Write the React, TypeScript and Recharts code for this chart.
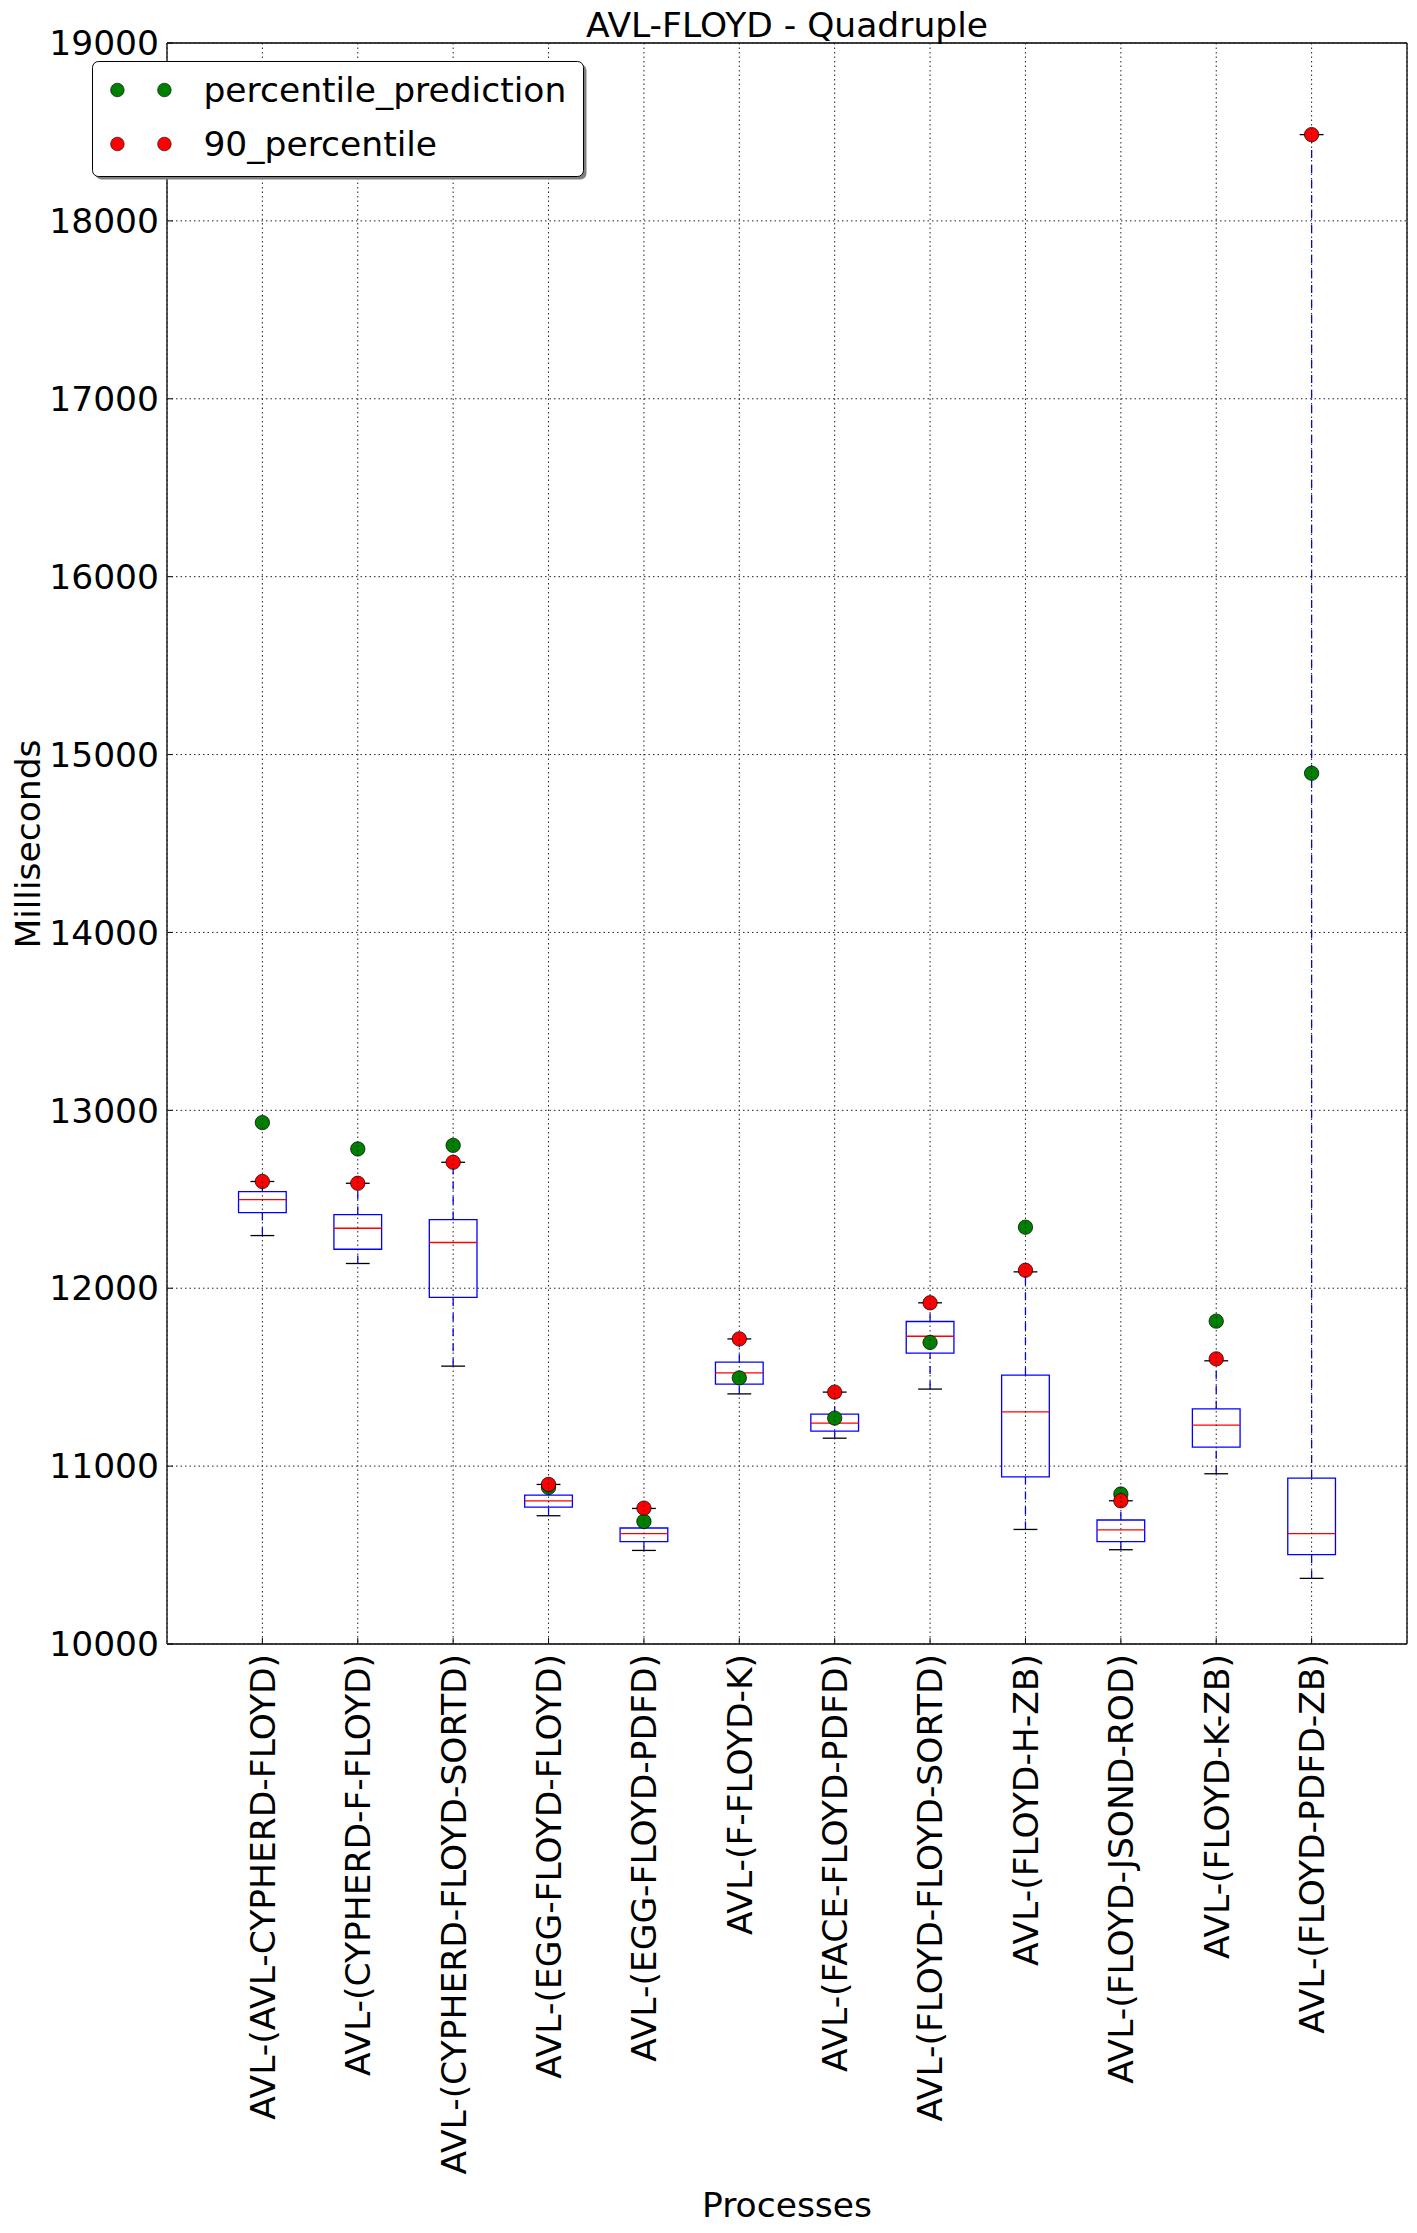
import React from 'react';
import {
  ComposedChart,
  XAxis,
  YAxis,
  CartesianGrid,
  Scatter,
  ReferenceLine,
  ReferenceArea,
  Legend,
} from 'recharts';

// ---------- data ----------
const categories = [
  'AVL-(AVL-CYPHERD-FLOYD)',
  'AVL-(CYPHERD-F-FLOYD)',
  'AVL-(CYPHERD-FLOYD-SORTD)',
  'AVL-(EGG-FLOYD-FLOYD)',
  'AVL-(EGG-FLOYD-PDFD)',
  'AVL-(F-FLOYD-K)',
  'AVL-(FACE-FLOYD-PDFD)',
  'AVL-(FLOYD-FLOYD-SORTD)',
  'AVL-(FLOYD-H-ZB)',
  'AVL-(FLOYD-JSOND-ROD)',
  'AVL-(FLOYD-K-ZB)',
  'AVL-(FLOYD-PDFD-ZB)',
];

const whiskerLow = [12296, 12139, 11562, 10721, 10526, 11406, 11157, 11433, 10644, 10530, 10957, 10369];
const q1 = [12425, 12219, 11948, 10770, 10575, 11461, 11197, 11635, 10940, 10575, 11107, 10502];
const median = [12498, 12337, 12257, 10805, 10620, 11524, 11242, 11730, 11305, 10642, 11230, 10620];
const q3 = [12543, 12414, 12386, 10837, 10652, 11584, 11292, 11813, 11511, 10697, 11322, 10933];
const whiskerHigh = [12600, 12590, 12708, 10897, 10762, 11715, 11416, 11918, 12092, 10805, 11592, 18485];

const percentilePrediction = [12931, 12783, 12803, 10880, 10689, 11496, 11270, 11695, 12343, 10843, 11815, 14895];
const percentile90 = [12600, 12590, 12708, 10897, 10764, 11715, 11416, 11918, 12101, 10805, 11603, 18485];

const yTicks = [10000, 11000, 12000, 13000, 14000, 15000, 16000, 17000, 18000, 19000];
const xPositions = categories.map((_, i) => i + 1);

// ---------- layout / style ----------
const W = 1417;
const H = 2233;
const FONT = '"DejaVu Sans", sans-serif';
const FS = 34.5;
const BOX_HALF = 0.25;
const CAP_HALF = 0.125;
const BLUE = '#0000ff';
const RED = '#ff0000';
const GREEN = '#008000';

const predictionPoints = xPositions.map((x, i) => ({ x, y: percentilePrediction[i] }));
const p90Points = xPositions.map((x, i) => ({ x, y: percentile90[i] }));

const makeDot = (color: string) => (props: any) => {
  const { cx, cy } = props;
  if (cx == null || cy == null) return <g />;
  return <circle cx={cx} cy={cy} r={7.2} fill={color} stroke="#000" strokeWidth={0.7} />;
};

const XTick = (props: any) => {
  const { x, y, payload } = props;
  const label = categories[Math.round(payload.value) - 1] ?? '';
  return (
    <text
      x={x}
      y={y}
      dy="0.36em"
      transform={`rotate(-90, ${x}, ${y})`}
      textAnchor="end"
      fontSize={FS}
      fontFamily={FONT}
      fill="#000"
    >
      {label}
    </text>
  );
};

const LegendBox = () => (
  <svg width={500} height={124} style={{ display: 'block', overflow: 'visible' }}>
    <rect x={3.5} y={3.5} width={491} height={115} rx={6} ry={6} fill="#808080" />
    <rect x={0.5} y={0.5} width={491} height={115} rx={6} ry={6} fill="#fff" stroke="#000" strokeWidth={1} />
    <circle cx={25.4} cy={29} r={6.8} fill={GREEN} stroke="#000" strokeWidth={0.6} />
    <circle cx={72.4} cy={29} r={6.8} fill={GREEN} stroke="#000" strokeWidth={0.6} />
    <text x={111.4} y={41} fontSize={FS} fontFamily={FONT} fill="#000">
      percentile_prediction
    </text>
    <circle cx={25.4} cy={83} r={6.8} fill={RED} stroke="#000" strokeWidth={0.6} />
    <circle cx={72.4} cy={83} r={6.8} fill={RED} stroke="#000" strokeWidth={0.6} />
    <text x={111.4} y={95} fontSize={FS} fontFamily={FONT} fill="#000">
      90_percentile
    </text>
  </svg>
);

export default function App() {
  const boxes: React.ReactNode[] = [];
  xPositions.forEach((x, i) => {
    boxes.push(
      <ReferenceLine
        key={`wh-${i}`}
        segment={[{ x, y: q3[i] }, { x, y: whiskerHigh[i] }]}
        stroke={BLUE}
        strokeWidth={1.3}
        strokeDasharray="8 7"
        zIndex={300}
      />,
      <ReferenceLine
        key={`wl-${i}`}
        segment={[{ x, y: whiskerLow[i] }, { x, y: q1[i] }]}
        stroke={BLUE}
        strokeWidth={1.3}
        strokeDasharray="8 7"
        zIndex={300}
      />,
      <ReferenceLine
        key={`ch-${i}`}
        segment={[{ x: x - CAP_HALF, y: whiskerHigh[i] }, { x: x + CAP_HALF, y: whiskerHigh[i] }]}
        stroke="#000"
        strokeWidth={1.3}
        zIndex={300}
      />,
      <ReferenceLine
        key={`cl-${i}`}
        segment={[{ x: x - CAP_HALF, y: whiskerLow[i] }, { x: x + CAP_HALF, y: whiskerLow[i] }]}
        stroke="#000"
        strokeWidth={1.3}
        zIndex={300}
      />,
      <ReferenceArea
        key={`box-${i}`}
        x1={x - BOX_HALF}
        x2={x + BOX_HALF}
        y1={q1[i]}
        y2={q3[i]}
        fill="none"
        fillOpacity={0}
        stroke={BLUE}
        strokeWidth={1.3}
        zIndex={300}
      />,
      <ReferenceLine
        key={`med-${i}`}
        segment={[{ x: x - BOX_HALF, y: median[i] }, { x: x + BOX_HALF, y: median[i] }]}
        stroke={RED}
        strokeWidth={1.3}
        zIndex={310}
      />
    );
  });

  return (
    <div style={{ position: 'absolute', left: 0, top: 0, width: W, height: H, background: '#fff' }}>
      <ComposedChart width={W} height={H} margin={{ top: 43, right: 10, bottom: 109, left: 67 }}>
        <XAxis
          xAxisId={0}
          dataKey="x"
          type="number"
          domain={[0, 13]}
          ticks={xPositions}
          interval={0}
          allowDataOverflow
          height={480}
          tickSize={-6}
          tickMargin={16}
          tick={(p: any) => <XTick {...p} />}
          axisLine={{ stroke: '#000', strokeWidth: 1.3 }}
          tickLine={{ stroke: '#000', strokeWidth: 1 }}
        />
        <XAxis
          xAxisId="t"
          orientation="top"
          mirror
          type="number"
          domain={[0, 13]}
          ticks={xPositions}
          interval={0}
          allowDataOverflow
          tickSize={6}
          tick={false}
          axisLine={{ stroke: '#000', strokeWidth: 1.3 }}
          tickLine={{ stroke: '#000', strokeWidth: 1 }}
        />
        <YAxis
          yAxisId={0}
          dataKey="y"
          type="number"
          domain={[10000, 19000]}
          ticks={yTicks}
          interval={0}
          allowDataOverflow
          width={100}
          tickSize={-6}
          tickMargin={14}
          tick={{ fontSize: FS, fill: '#000', fontFamily: FONT }}
          axisLine={{ stroke: '#000', strokeWidth: 1.3 }}
          tickLine={{ stroke: '#000', strokeWidth: 1 }}
        />
        <YAxis
          yAxisId="r"
          orientation="right"
          mirror
          type="number"
          domain={[10000, 19000]}
          ticks={yTicks}
          interval={0}
          allowDataOverflow
          tickSize={6}
          tick={false}
          axisLine={{ stroke: '#000', strokeWidth: 1.3 }}
          tickLine={{ stroke: '#000', strokeWidth: 1 }}
        />
        {boxes}
        <Scatter
          name="percentile_prediction"
          data={predictionPoints}
          dataKey="y"
          isAnimationActive={false}
          shape={makeDot(GREEN)}
          zIndex={600}
        />
        <Scatter
          name="90_percentile"
          data={p90Points}
          dataKey="y"
          isAnimationActive={false}
          shape={makeDot(RED)}
          zIndex={610}
        />
        <CartesianGrid stroke="#222" strokeWidth={1} strokeDasharray="1.5 3" zIndex={1000} />
        <Legend
          layout="vertical"
          align="center"
          verticalAlign="middle"
          content={() => <LegendBox />}
          wrapperStyle={{ left: 92, top: 61, width: 500, height: 124, bottom: 'auto', right: 'auto' }}
        />
      </ComposedChart>
      <svg
        width={W}
        height={H}
        style={{ position: 'absolute', left: 0, top: 0, pointerEvents: 'none' }}
      >
        <text x={787} y={37} textAnchor="middle" fontSize={34.5} fontFamily={FONT} fill="#000">
          AVL-FLOYD - Quadruple
        </text>
        <text
          x={40}
          y={844}
          transform="rotate(-90, 40, 844)"
          textAnchor="middle"
          fontSize={34.5}
          fontFamily={FONT}
          fill="#000"
        >
          Milliseconds
        </text>
        <text x={787} y={2217} textAnchor="middle" fontSize={34.5} fontFamily={FONT} fill="#000">
          Processes
        </text>
      </svg>
    </div>
  );
}
